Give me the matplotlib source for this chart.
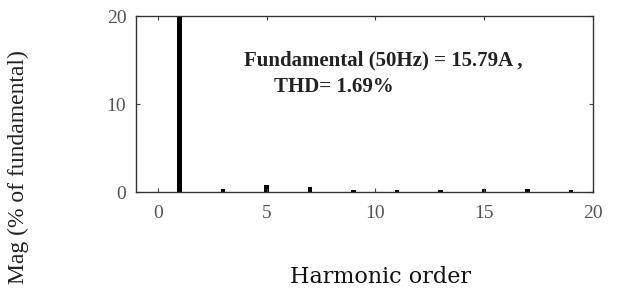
import matplotlib
matplotlib.use("Agg")
import matplotlib.pyplot as plt

# harmonic spectrum (% of fundamental)
harmonics = [1, 3, 5, 7, 9, 11, 13, 15, 17, 19]
magnitude = [100, 0.35, 0.85, 0.55, 0.2, 0.2, 0.2, 0.3, 0.4, 0.2]
xticks = [0, 5, 10, 15, 20]
yticks = [0, 10, 20]

plt.rcParams["font.family"] = ["Liberation Serif", "DejaVu Serif"]

fig = plt.figure(figsize=(6.17, 2.91), dpi=100)
ax = fig.add_axes([0.2204, 0.340, 0.7406, 0.605])

ax.bar(harmonics, magnitude, width=0.2, color="black")

ax.set_xlim(-1, 20)
ax.set_ylim(0, 20)
ax.set_xticks(xticks)
ax.set_yticks(yticks)
ax.tick_params(direction="in", top=True, right=True, length=3,
               labelsize=14, labelcolor="#555555", color="#444444")
ax.tick_params(axis="x", pad=9)
ax.tick_params(axis="y", pad=7)
for s in ax.spines.values():
    s.set_color("#333333")
    s.set_linewidth(1.0)

ax.text(3.95, 15.0, "Fundamental (50Hz) = 15.79A ,", fontsize=15,
        fontweight="bold", color="#222222", va="center")
ax.text(5.35, 11.9, "THD= 1.69%", fontsize=15,
        fontweight="bold", color="#222222", va="center")

fig.text(0.03, 0.426, "Mag (% of fundamental)", rotation=90, fontsize=17,
         ha="center", va="center", color="#222222")
fig.text(0.617, 0.048, "Harmonic order", fontsize=16, ha="center",
         va="center", color="#111111", family=["DejaVu Serif"])

fig.savefig("out.png", dpi=100)
